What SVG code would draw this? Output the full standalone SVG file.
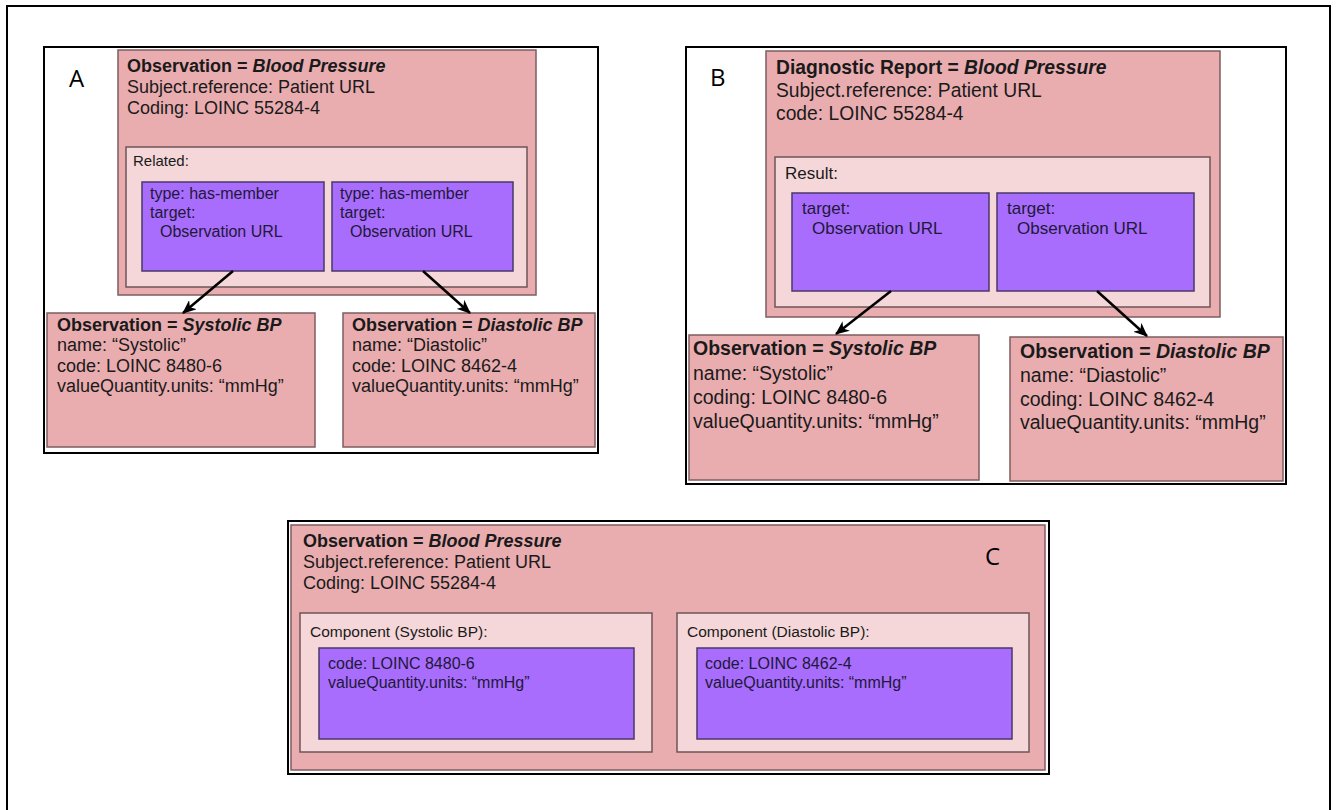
<svg xmlns="http://www.w3.org/2000/svg" width="1336" height="810" viewBox="0 0 1336 810">
<style>
  text { font-family: "Liberation Sans", Arial, sans-serif; fill: #1a1a1a; }
  .frame { fill: #ffffff; stroke: #000000; stroke-width: 2; }
  .pink { fill: #E9ADB0; stroke: #7D5E60; stroke-width: 1.5; }
  .light { fill: #F5D7D9; stroke: #6E5557; stroke-width: 1.5; }
  .purple { fill: #A86DFD; stroke: #4A3868; stroke-width: 1.5; }
  .lbl { font-family: "Open Sans", "Liberation Sans", sans-serif; font-size: 24px; fill: #000; }
  .t18 { font-size: 18px; }
  .t19 { font-size: 19.3px; }
  .t195 { font-size: 19.5px; }
  .t16 { font-size: 16px; }
  .t17 { font-size: 17px; }
  .t155 { font-size: 15.5px; }
  .t15 { font-size: 15px; }
  .b { font-weight: bold; }
  .bi { font-weight: bold; font-style: italic; }
  .pt { fill: #22183a; }
  .conn { stroke: #000; stroke-width: 2.5; fill: none; marker-end: url(#arr); }
</style>
<defs>
  <marker id="arr" viewBox="0 0 14 12" refX="13" refY="6" markerWidth="14" markerHeight="12" markerUnits="userSpaceOnUse" orient="auto">
    <path d="M0,0 L14,6 L0,12 L4,6 z" fill="#000"/>
  </marker>
</defs>

<rect x="7" y="6" width="1323" height="820" fill="none" stroke="#000" stroke-width="2"/>

<!-- Panel A -->
<g id="panelA">
  <rect class="frame" x="44" y="47" width="554" height="406"/>
  <text class="lbl" x="69" y="87">A</text>
</g>
<g id="A-bp">
  <rect class="pink" x="118" y="50" width="418" height="245"/>
  <text class="t18" x="127" y="72"><tspan class="b">Observation = </tspan><tspan class="bi">Blood Pressure</tspan></text>
  <text class="t18" x="127" y="93">Subject.reference: Patient URL</text>
  <text class="t18" x="127" y="114">Coding: LOINC 55284-4</text>
</g>
<g id="A-related">
  <rect class="light" x="126" y="147" width="401" height="140"/>
  <text class="t15" x="133" y="166">Related:</text>
</g>
<g id="A-rel1">
  <rect class="purple" x="142" y="182" width="182" height="89"/>
  <text class="t16 pt" x="150" y="199">type: has-member</text>
  <text class="t16 pt" x="150" y="218">target:</text>
  <text class="t16 pt" x="160" y="237">Observation URL</text>
</g>
<g id="A-rel2">
  <rect class="purple" x="332" y="182" width="181" height="89"/>
  <text class="t16 pt" x="340" y="199">type: has-member</text>
  <text class="t16 pt" x="340" y="218">target:</text>
  <text class="t16 pt" x="350" y="237">Observation URL</text>
</g>
<g id="A-sys">
  <rect class="pink" x="47" y="313" width="268" height="134"/>
  <text class="t18" x="57" y="331"><tspan class="b">Observation = </tspan><tspan class="bi">Systolic BP</tspan></text>
  <text class="t18" x="57" y="351">name: “Systolic”</text>
  <text class="t18" x="57" y="372">code: LOINC 8480-6</text>
  <text class="t18" x="57" y="392">valueQuantity.units: “mmHg”</text>
</g>
<g id="A-dia">
  <rect class="pink" x="343" y="313" width="252" height="134"/>
  <text class="t18" x="352" y="331"><tspan class="b">Observation = </tspan><tspan class="bi">Diastolic BP</tspan></text>
  <text class="t18" x="352" y="351">name: “Diastolic”</text>
  <text class="t18" x="352" y="372">code: LOINC 8462-4</text>
  <text class="t18" x="352" y="392">valueQuantity.units: “mmHg”</text>
</g>

<!-- Panel B -->
<g id="panelB">
  <rect class="frame" x="686" y="47" width="600" height="437"/>
  <text class="lbl" x="710" y="86">B</text>
</g>
<g id="B-dr">
  <rect class="pink" x="766" y="51" width="454" height="266"/>
  <text class="t19" x="776" y="74"><tspan class="b">Diagnostic Report = </tspan><tspan class="bi">Blood Pressure</tspan></text>
  <text class="t19" x="776" y="97">Subject.reference: Patient URL</text>
  <text class="t19" x="776" y="120">code: LOINC 55284-4</text>
</g>
<g id="B-result">
  <rect class="light" x="775" y="157" width="435" height="150"/>
  <text class="t17" x="785" y="179">Result:</text>
</g>
<g id="B-res1">
  <rect class="purple" x="792" y="193" width="197" height="98"/>
  <text class="t17 pt" x="802" y="214">target:</text>
  <text class="t17 pt" x="812" y="234">Observation URL</text>
</g>
<g id="B-res2">
  <rect class="purple" x="997" y="193" width="197" height="98"/>
  <text class="t17 pt" x="1007" y="214">target:</text>
  <text class="t17 pt" x="1017" y="234">Observation URL</text>
</g>
<g id="B-sys">
  <rect class="pink" x="689" y="335" width="290" height="145"/>
  <text class="t195" x="693" y="355"><tspan class="b">Observation = </tspan><tspan class="bi">Systolic BP</tspan></text>
  <text class="t195" x="693" y="380">name: “Systolic”</text>
  <text class="t195" x="693" y="404">coding: LOINC 8480-6</text>
  <text class="t195" x="693" y="428">valueQuantity.units: “mmHg”</text>
</g>
<g id="B-dia">
  <rect class="pink" x="1010" y="337" width="273" height="144"/>
  <text class="t195" x="1020" y="358"><tspan class="b">Observation = </tspan><tspan class="bi">Diastolic BP</tspan></text>
  <text class="t195" x="1020" y="382">name: “Diastolic”</text>
  <text class="t195" x="1020" y="406">coding: LOINC 8462-4</text>
  <text class="t195" x="1020" y="429">valueQuantity.units: “mmHg”</text>
</g>

<!-- Panel C -->
<g id="panelC">
  <rect class="frame" x="288" y="521" width="761" height="253"/>
</g>
<g id="C-bp">
  <rect class="pink" x="291" y="525" width="754" height="245"/>
  <text class="t18" x="303" y="547"><tspan class="b">Observation = </tspan><tspan class="bi">Blood Pressure</tspan></text>
  <text class="t18" x="303" y="568">Subject.reference: Patient URL</text>
  <text class="t18" x="303" y="589">Coding: LOINC 55284-4</text>
  <text class="lbl" x="985" y="565">C</text>
</g>
<g id="C-comp1">
  <rect class="light" x="300" y="613" width="352" height="139"/>
  <text class="t155" x="310" y="637">Component (Systolic BP):</text>
  <rect class="purple" x="319" y="648" width="315" height="91"/>
  <text class="t16 pt" x="328" y="669">code: LOINC 8480-6</text>
  <text class="t16 pt" x="328" y="688">valueQuantity.units: “mmHg”</text>
</g>
<g id="C-comp2">
  <rect class="light" x="677" y="613" width="352" height="139"/>
  <text class="t155" x="687" y="637">Component (Diastolic BP):</text>
  <rect class="purple" x="697" y="648" width="315" height="91"/>
  <text class="t16 pt" x="705" y="669">code: LOINC 8462-4</text>
  <text class="t16 pt" x="705" y="688">valueQuantity.units: “mmHg”</text>
</g>

<!-- Connectors -->
<g id="connectors">
  <line class="conn" x1="233" y1="271" x2="183" y2="313"/>
  <line class="conn" x1="423" y1="271" x2="470" y2="313"/>
  <line class="conn" x1="891" y1="291" x2="836" y2="334"/>
  <line class="conn" x1="1097" y1="291" x2="1147" y2="336"/>
</g>
</svg>
